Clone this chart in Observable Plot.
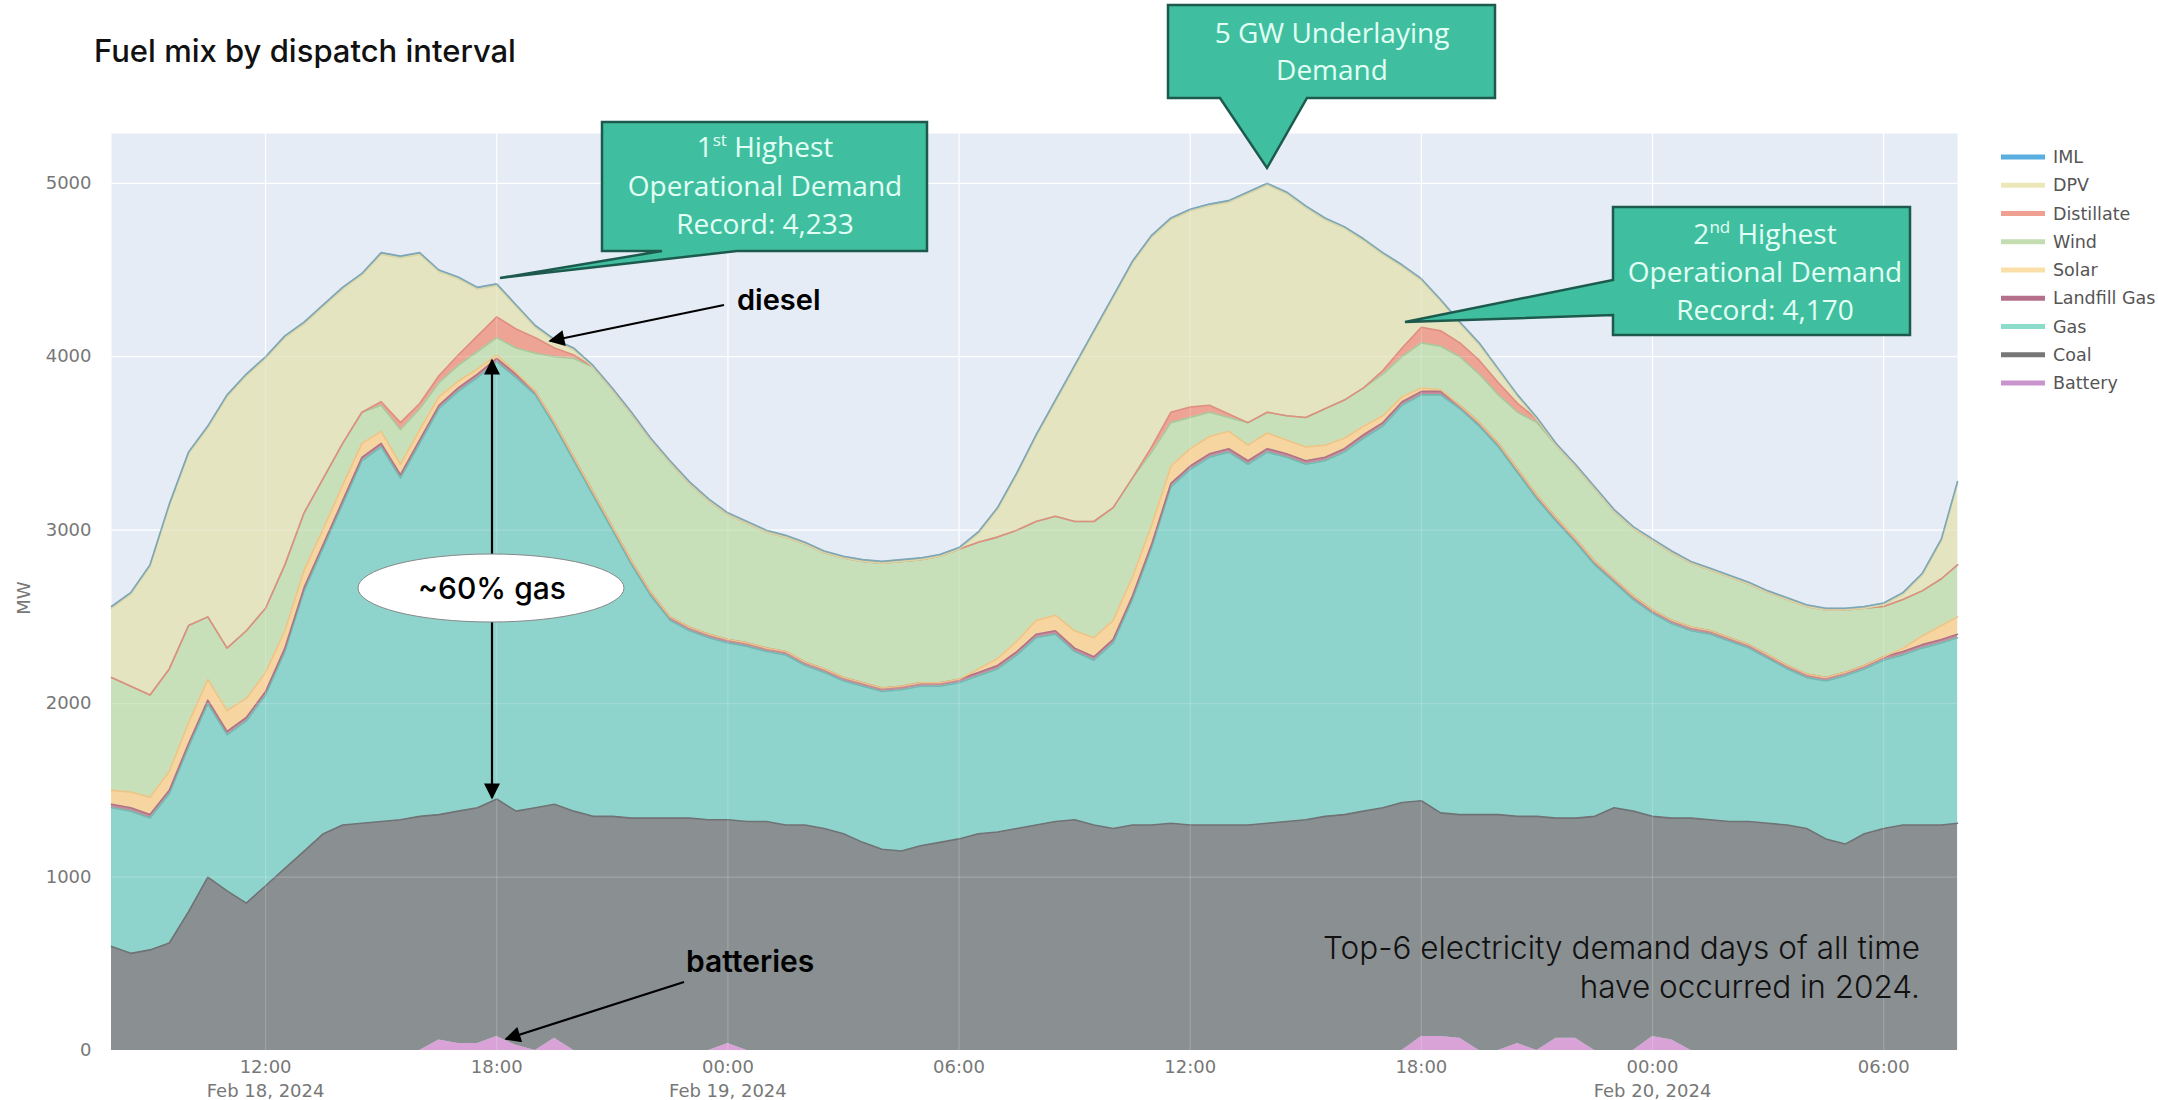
<!DOCTYPE html>
<html><head><meta charset="utf-8">
<script src="https://cdn.jsdelivr.net/npm/d3@7"></script>
<script src="https://cdn.jsdelivr.net/npm/@observablehq/plot@0.6"></script>
<style>body{margin:0;background:#fff;} svg{display:block;}</style>
</head><body><div id="chart"></div>
<script>
// ---- DATA (MW, 30‑minute dispatch samples from 08:00 18 Feb 2024 to 07:55 20 Feb 2024) ----
const fuels = ["Battery","Coal","Gas","Landfill Gas","Solar","Wind","Distillate","DPV","IML"];
const legendOrder = ["IML","DPV","Distillate","Wind","Solar","Landfill Gas","Gas","Coal","Battery"];

const battery = [0,0,0,0,0,0,0,0,0,0, 0,0,0,0,0,0,0,60,40,40, 80,30,0,70,0,0,0,0,0,0, 0,0,40,0,0,0,0,0,0,0,
 0,0,0,0,0,0,0,0,0,0, 0,0,0,0,0,0,0,0,0,0, 0,0,0,0,0,0,0,0,80,80, 70,0,0,40,0,70,70,0,0,0, 80,60,0,0,0,0,0,0,0,0, 0,0,0,0,0,0,0];
const coal = [600,560,580,620,800,1000,920,850,950,1050, 1150,1250,1300,1310,1320,1330,1350,1300,1340,1360,
 1370,1350,1400,1350,1380,1350,1350,1340,1340,1340, 1340,1330,1290,1320,1320,1300,1300,1280,1250,1200,
 1160,1150,1180,1200,1220,1250,1260,1280,1300,1320, 1330,1300,1280,1300,1300,1310,1300,1300,1300,1300,
 1310,1320,1330,1350,1360,1380,1400,1430,1360,1290, 1290,1360,1360,1310,1350,1270,1270,1350,1400,1380,
 1270,1280,1340,1330,1320,1320,1310,1300,1280,1220, 1190,1250,1280,1300,1300,1300,1310];
const gas = [800,820,760,860,950,1000,900,1050,1100,1250, 1500,1650,1850,2090,2160,1970,2150,2340,2420,2480,
 2520,2500,2380,2180,2020,1850,1650,1460,1280,1140, 1080,1050,1020,1010,980,980,920,900,880,900,
 910,930,920,900,900,910,940,1000,1080,1080, 970,950,1070,1300,1600,1940,2050,2120,2150,2080,
 2140,2100,2050,2050,2090,2150,2200,2290,2340,2410, 2340,2240,2120,1980,1830,1710,1590,1450,1300,1220,
 1170,1120,1080,1070,1040,1000,950,900,870,910, 970,950,970,980,1020,1050,1070];
const landfill = [20,20,20,20,20,20,20,20,20,20, 20,20,20,20,20,20,20,20,20,20, 20,20,20,20,20,20,20,20,20,20,
 20,20,20,20,20,20,20,20,20,20, 20,20,20,20,20,20,20,20,20,20, 20,20,20,20,20,20,20,20,20,20,
 20,20,20,20,20,20,20,20,20,20, 20,20,20,20,20,20,20,20,20,20, 20,20,20,20,20,20,20,20,20,20, 20,20,20,20,20,20,20];
const solar = [80,90,100,110,120,120,120,110,110,100, 100,90,90,80,70,60,60,50,40,30, 20,10,0,0,0,0,0,0,0,0,
 0,0,0,0,0,0,0,0,0,0, 0,0,0,0,0,20,40,60,80,90, 100,110,110,110,110,100,100,100,100,90,
 90,80,80,70,60,50,40,30,20,10, 0,0,0,0,0,0,0,0,0,0, 0,0,0,0,0,0,0,0,0,0, 0,0,0,20,50,80,100];
const wind = [650,610,590,590,560,360,360,390,370,380, 330,290,240,180,150,200,120,80,90,100,
 100,140,220,380,570,720,790,850,880,890, 830,770,720,690,670,660,680,670,690,700,
 720,720,710,730,750,730,700,640,570,570, 630,670,650,570,420,250,180,140,80,130,
 120,140,170,210,220,220,240,230,260,250, 280,280,280,330,420,420,420,420,390,390,
 400,390,370,350,350,350,360,380,390,390, 360,330,290,280,260,270,300];
const distillate = [0,0,0,0,0,0,0,0,0,0, 0,0,0,0,20,40,30,40,60,90, 120,110,90,50,20,0,0,0,0,0,
 0,0,0,0,0,0,0,0,0,0, 0,0,0,0,0,0,0,0,0,0, 0,0,0,0,30,60,60,40,20,0,
 0,0,0,0,0,0,20,50,90,90, 80,80,70,50,20,0,0,0,0,0, 0,0,0,0,0,0,0,0,0,0, 0,0,0,0,0,0,0];
const dpv = [400,530,740,940,990,1090,1450,1470,1440,1310, 1090,990,890,790,850,950,860,600,440,270,
 180,130,60,40,30,0,0,0,0,0, 0,0,0,0,0,0,0,0,0,0, 0,0,0,0,0,50,160,320,490,660,
 890,1090,1210,1240,1210,1110,1130,1150,1220,1320, 1310,1280,1210,1090,990,850,670,470,270,170,
 110,90,70,40,0,0,0,0,0,0, 0,0,0,0,0,0,0,0,0,0, 0,0,10,30,90,220,470];
const iml = [10,10,10,10,10,10,10,10,10,10, 10,10,10,10,10,10,10,10,10,10, 10,10,10,10,10,10,10,10,10,10,
 10,10,10,10,10,10,10,10,10,10, 10,10,10,10,10,10,10,10,10,10, 10,10,10,10,10,10,10,10,10,10,
 10,10,10,10,10,10,10,10,10,10, 10,10,10,10,10,10,10,10,10,10, 10,10,10,10,10,10,10,10,10,10, 10,10,10,10,10,10,10];

const yTicks = [0,1000,2000,3000,4000,5000];
const xTickTimes = ["2024-02-18T12:00Z","2024-02-18T18:00Z","2024-02-19T00:00Z","2024-02-19T06:00Z",
                    "2024-02-19T12:00Z","2024-02-19T18:00Z","2024-02-20T00:00Z","2024-02-20T06:00Z"];
const xTickLabels = ["12:00\nFeb 18, 2024","18:00","00:00\nFeb 19, 2024","06:00","12:00","18:00","00:00\nFeb 20, 2024","06:00"];

// ---- build table ----
const start = Date.UTC(2024,1,18,8,0);
const times = d3.range(96).map(i => new Date(start + i*30*60000));
times.push(new Date(start + 2875*60000));
const series = {"Battery":battery,"Coal":coal,"Gas":gas,"Landfill Gas":landfill,"Solar":solar,"Wind":wind,"Distillate":distillate,"DPV":dpv,"IML":iml};
const data = fuels.flatMap(f => times.map((t,i) => ({time:t, fuel:f, value:series[f][i]})));

const fillColors = {"Battery":"#D9A3D8","Coal":"#8A8F91","Gas":"#8ED4CD","Landfill Gas":"#C58C9C","Solar":"#F6D5A0",
  "Wind":"#C7E0B9","Distillate":"#EDA495","DPV":"#E5E4C1","IML":"#9CC6E4"};
const strokeColors = {"Battery":"none","Coal":"#6E7375","Gas":"#74B9AF","Landfill Gas":"#B07486","Solar":"#EDC486",
  "Wind":"#A9C79B","Distillate":"#E08E7E","DPV":"#D9D6A6","IML":"#7FA6B4"};
const legendColors = {"IML":"#5AAEE0","DPV":"#ECE7B8","Distillate":"#F0A090","Wind":"#C3DDB0","Solar":"#FADFA8",
  "Landfill Gas":"#B4708A","Gas":"#8CDCCB","Coal":"#767676","Battery":"#C994CC"};

const xTicks = xTickTimes.map(s => new Date(s));
const labelMap = new Map(xTicks.map((d,i) => [+d, xTickLabels[i]]));

const W = 2158, H = 1100, ML = 111, MR = 201, MT = 133, MB = 50;
const plot = Plot.plot({
  width: W, height: H, marginLeft: ML, marginRight: MR, marginTop: MT, marginBottom: MB,
  style: {fontFamily: "DejaVu Sans", fontSize: "18px", background: "#fff", overflow: "visible"},
  x: {type: "utc", domain: [times[0], times[times.length-1]], label: null},
  y: {domain: [0, 5287], label: null},
  color: {type: "identity"},
  marks: [
    Plot.frame({fill: "#E5ECF6", stroke: "none"}),
    Plot.gridY(yTicks, {stroke: "#fff", strokeOpacity: 1, strokeWidth: 1.2}),
    Plot.gridX(xTicks, {stroke: "#fff", strokeOpacity: 1, strokeWidth: 1.2}),
    Plot.areaY(data, {x: "time", y: "value", z: "fuel", fill: d => fillColors[d.fuel], order: fuels}),
    Plot.lineY(data, Plot.stackY2({x: "time", y: "value", z: "fuel", stroke: d => strokeColors[d.fuel], order: fuels, strokeWidth: 1.6})),
    Plot.gridY(yTicks, {stroke: "#fff", strokeOpacity: 0.18, strokeWidth: 1.2}),
    Plot.gridX(xTicks, {stroke: "#fff", strokeOpacity: 0.18, strokeWidth: 1.2}),
    Plot.axisY(yTicks, {tickSize: 0, tickPadding: 20, tickFormat: d => String(d), color: "#777", fontSize: 18, label: null}),
    Plot.axisX(xTicks, {tickSize: 0, tickPadding: 6, tickFormat: d => labelMap.get(+d), color: "#777", fontSize: 18, lineHeight: 1.3, label: null})
  ]
});
document.getElementById("chart").appendChild(plot);

// ---- annotations ----
const svg = d3.select(plot);
const defs = svg.append("defs");
defs.append("marker").attr("id","ah").attr("viewBox","0 0 10 10").attr("refX",9).attr("refY",5)
  .attr("markerUnits","userSpaceOnUse").attr("markerWidth",18).attr("markerHeight",16).attr("orient","auto-start-reverse")
  .append("path").attr("d","M0,0 L10,5 L0,10 Z").attr("fill","#000");

const g = svg.append("g").attr("text-anchor","start");
g.append("text").attr("x",94).attr("y",62).text("Fuel mix by dispatch interval")
  .attr("font-family","Inter").attr("font-size",31).attr("font-weight",500).attr("fill","#111");

g.append("text").attr("transform","translate(30,598) rotate(-90)").attr("text-anchor","middle")
  .attr("font-family","DejaVu Sans").attr("font-size",18).attr("fill","#777").text("MW");

// callouts
const boxFill = "#3FBF9F", boxStroke = "#1D5A4D", boxText = "#E3FFF5";
function callout(path, cx, lines, baselines) {
  g.append("path").attr("d", path).attr("fill", boxFill).attr("stroke", boxStroke).attr("stroke-width", 2.5).attr("stroke-linejoin","miter");
  lines.forEach((ln, i) => {
    const t = g.append("text").attr("x", cx).attr("y", baselines[i]).attr("text-anchor","middle")
      .attr("font-family","Open Sans").attr("font-size",28).attr("fill", boxText);
    ln.forEach(part => {
      const s = t.append("tspan").text(part.t);
      if (part.sup) s.attr("font-size",17).attr("baseline-shift","super");
    });
  });
}
callout("M602,122 H927 V251 H737 L500,278 L662,251 H602 Z", 765,
  [[{t:"1"},{t:"st",sup:true},{t:" Highest"}],[{t:"Operational Demand"}],[{t:"Record: 4,233"}]], [157,196,234]);
callout("M1168,5 H1495 V98 H1307 L1267,168 L1220,98 H1168 Z", 1332,
  [[{t:"5 GW Underlaying"}],[{t:"Demand"}]], [43,80]);
callout("M1613,207 H1910 V335 H1613 V315 L1405,322 L1613,280 Z", 1765,
  [[{t:"2"},{t:"nd",sup:true},{t:" Highest"}],[{t:"Operational Demand"}],[{t:"Record: 4,170"}]], [244,282,320]);

// diesel
g.append("text").attr("x",737).attr("y",310).text("diesel").attr("font-family","Inter").attr("font-weight",600).attr("font-size",29).attr("fill","#000");
g.append("line").attr("x1",724).attr("y1",305).attr("x2",550).attr("y2",341).attr("stroke","#000").attr("stroke-width",2.2).attr("marker-end","url(#ah)");

// gas share
g.append("line").attr("x1",492).attr("y1",360).attr("x2",492).attr("y2",798).attr("stroke","#000").attr("stroke-width",2.2)
  .attr("marker-start","url(#ah)").attr("marker-end","url(#ah)");
g.append("ellipse").attr("cx",491).attr("cy",588).attr("rx",133).attr("ry",34).attr("fill","#fff").attr("stroke","#888").attr("stroke-width",1);
g.append("text").attr("x",492).attr("y",599).attr("text-anchor","middle").text("~60% gas")
  .attr("font-family","Inter").attr("font-weight",500).attr("font-size",30).attr("fill","#000");

// batteries
g.append("text").attr("x",686).attr("y",972).text("batteries").attr("font-family","Inter").attr("font-weight",600).attr("font-size",30).attr("fill","#000");
g.append("line").attr("x1",684).attr("y1",982).attr("x2",506).attr("y2",1039).attr("stroke","#000").attr("stroke-width",2.2).attr("marker-end","url(#ah)");

// note
const note = g.append("text").attr("text-anchor","end").attr("font-family","Inter").attr("font-weight",300).attr("font-size",31.5).attr("fill","#111");
note.append("tspan").attr("x",1920).attr("y",959).text("Top-6 electricity demand days of all time");
note.append("tspan").attr("x",1920).attr("y",998).text("have occurred in 2024.");

// legend
const lg = svg.append("g").attr("text-anchor","start");
legendOrder.forEach((f, k) => {
  const y = 157 + 28.25*k;
  lg.append("line").attr("x1",2001).attr("x2",2045).attr("y1",y).attr("y2",y).attr("stroke",legendColors[f]).attr("stroke-width",5);
  lg.append("text").attr("x",2053).attr("y",y).attr("dy","0.35em").text(f)
    .attr("font-family","DejaVu Sans").attr("font-size",17.5).attr("fill","#555");
});
</script>
</body></html>
